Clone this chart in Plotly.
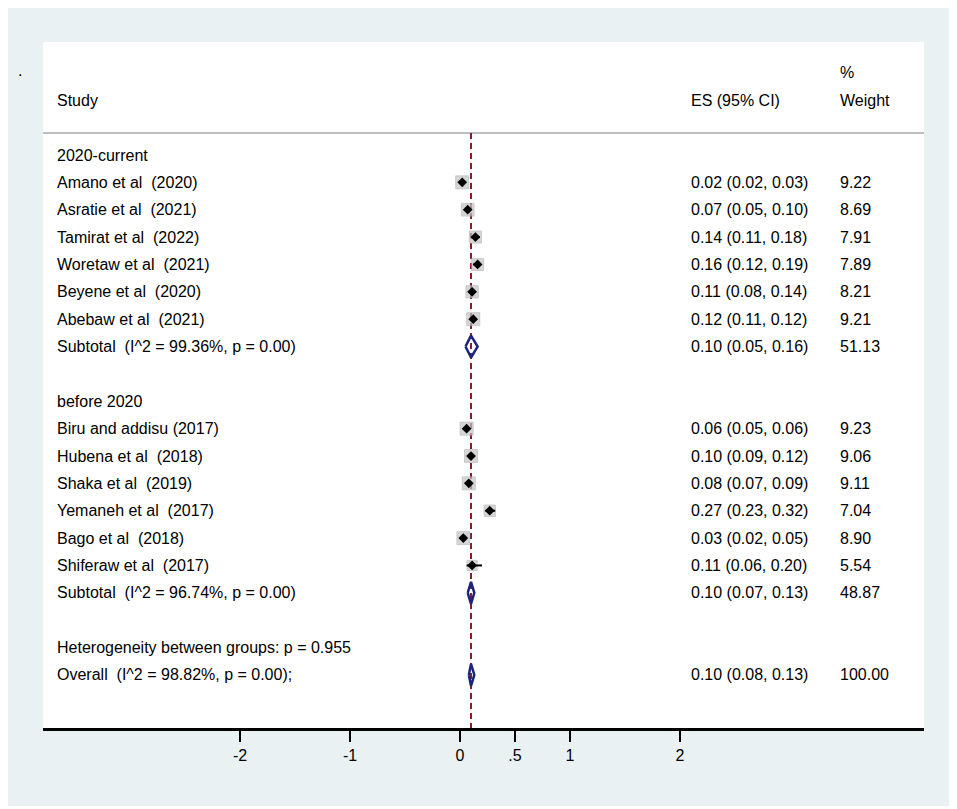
import math
import plotly.graph_objects as go

# study level data
group_names = ["2020-current", "before 2020"]
study = ["Amano et al  (2020)", "Asratie et al  (2021)", "Tamirat et al  (2022)",
         "Woretaw et al  (2021)", "Beyene et al  (2020)", "Abebaw et al  (2021)",
         "Biru and addisu (2017)", "Hubena et al  (2018)", "Shaka et al  (2019)",
         "Yemaneh et al  (2017)", "Bago et al  (2018)", "Shiferaw et al  (2017)"]
group = [0, 0, 0, 0, 0, 0, 1, 1, 1, 1, 1, 1]
es = [0.02, 0.07, 0.14, 0.16, 0.11, 0.12, 0.06, 0.10, 0.08, 0.27, 0.03, 0.11]
lo = [0.02, 0.05, 0.11, 0.12, 0.08, 0.11, 0.05, 0.09, 0.07, 0.23, 0.02, 0.06]
hi = [0.03, 0.10, 0.18, 0.19, 0.14, 0.12, 0.06, 0.12, 0.09, 0.32, 0.05, 0.20]
weight = [9.22, 8.69, 7.91, 7.89, 8.21, 9.21, 9.23, 9.06, 9.11, 7.04, 8.90, 5.54]

# subgroup pooled estimates
sub_es = [0.10, 0.10]
sub_lo = [0.05, 0.07]
sub_hi = [0.16, 0.13]
sub_w = [51.13, 48.87]
sub_i2 = [99.36, 96.74]
sub_p = [0.00, 0.00]

# overall
overall_es, overall_lo, overall_hi = 0.10, 0.08, 0.13
overall_i2, overall_p = 98.82, 0.00
het_p = 0.955

tick_vals = [-2, -1, 0, 0.5, 1, 2]
tick_text = ["-2", "-1", "0", ".5", "1", "2"]

NB = "\u00a0"


def ci_text(e, l, h):
    return f"{e:.2f} ({l:.2f}, {h:.2f})"


# lay out rows (top to bottom)
row_label = []   # (row, label)
row_right = []   # (row, es text, weight text)
study_row = [0] * len(study)
sub_row = []
r = 0
for g, name in enumerate(group_names):
    row_label.append((r, name))
    r += 1
    for i in range(len(study)):
        if group[i] == g:
            study_row[i] = r
            row_label.append((r, study[i]))
            row_right.append((r, ci_text(es[i], lo[i], hi[i]), f"{weight[i]:.2f}"))
            r += 1
    sub_row.append(r)
    row_label.append((r, f"Subtotal  (I^2 = {sub_i2[g]:.2f}%, p = {sub_p[g]:.2f})"))
    row_right.append((r, ci_text(sub_es[g], sub_lo[g], sub_hi[g]), f"{sub_w[g]:.2f}"))
    r += 2
row_label.append((r, f"Heterogeneity between groups: p = {het_p:.3f}"))
r += 1
overall_row = r
row_label.append((r, f"Overall  (I^2 = {overall_i2:.2f}%, p = {overall_p:.2f});"))
row_right.append((r, ci_text(overall_es, overall_lo, overall_hi), f"{100:.2f}"))

Y_TOP, Y_BOT = -4.13, 20.94
HEAD_LINE = -0.8
X_STUDY, X_ES, X_W = -3.682, 2.082, 3.436

fig = go.Figure()

# weight boxes
fig.add_trace(go.Scatter(
    x=es, y=study_row, mode="markers", hoverinfo="skip",
    marker=dict(symbol="square", size=[4.3 * math.sqrt(w) for w in weight],
                color="#c4c4c4", line=dict(width=0.8, color="#a9a9a9")),
))

# point estimates with CI
fig.add_trace(go.Scatter(
    x=es, y=study_row, mode="markers", hoverinfo="skip",
    marker=dict(symbol="diamond", size=7.5, color="black", line=dict(width=0)),
    error_x=dict(type="data", symmetric=False,
                 array=[h - e for e, h in zip(es, hi)],
                 arrayminus=[e - l for e, l in zip(es, lo)],
                 width=0, thickness=2, color="black"),
))

# pooled diamonds
dx, dy = [], []
for e, l, h, rr in zip(sub_es + [overall_es], sub_lo + [overall_lo],
                       sub_hi + [overall_hi], sub_row + [overall_row]):
    dx += [l, e, h, e, l, None]
    dy += [rr, rr - 0.4, rr, rr + 0.4, rr, None]
fig.add_trace(go.Scatter(x=dx, y=dy, mode="lines", hoverinfo="skip",
                         line=dict(color="#1a237e", width=2.5)))

ann = []
for rr, txt in row_label:
    ann.append(dict(x=X_STUDY, y=rr, text=txt.replace("  ", " " + NB),
                    xanchor="left", yanchor="middle", showarrow=False))
for rr, t1, t2 in row_right:
    ann.append(dict(x=X_ES, y=rr, text=t1, xanchor="left", yanchor="middle", showarrow=False))
    ann.append(dict(x=X_W, y=rr, text=t2, xanchor="left", yanchor="middle", showarrow=False))
ann.append(dict(x=X_STUDY, y=-2, text="Study", xanchor="left", yanchor="middle", showarrow=False))
ann.append(dict(x=X_ES, y=-2, text="ES (95% CI)", xanchor="left", yanchor="middle", showarrow=False))
ann.append(dict(x=X_W, y=-2, text="Weight", xanchor="left", yanchor="middle", showarrow=False))
ann.append(dict(x=X_W, y=-3.03, text="%", xanchor="left", yanchor="middle", showarrow=False))
ann.append(dict(xref="paper", yref="paper", x=-0.026, y=0.959, text=".",
                xanchor="center", yanchor="middle", showarrow=False))

shapes = [
    dict(type="rect", xref="paper", yref="paper", x0=-36 / 881, x1=1 + 28 / 881,
         y0=-78 / 686, y1=1 + 36 / 686, fillcolor="#eaf1f3", line=dict(width=0), layer="below"),
    dict(type="rect", xref="paper", yref="paper", x0=0, x1=1, y0=0, y1=1,
         fillcolor="white", line=dict(width=0), layer="below"),
    dict(type="line", xref="paper", yref="y", x0=0, x1=1, y0=HEAD_LINE, y1=HEAD_LINE,
         line=dict(color="#a8a8a8", width=1.5), layer="below"),
    dict(type="line", xref="x", yref="y", x0=overall_es, x1=overall_es, y0=HEAD_LINE, y1=Y_BOT,
         line=dict(color="#8b1a2b", width=2, dash="6px,4px"), layer="below"),
]

# page body has an 8px margin, so the figure is drawn 8px smaller than the window
fig.update_layout(
    width=949, height=801,
    margin=dict(l=35, r=33, t=34, b=81),
    paper_bgcolor="white", plot_bgcolor="white",
    showlegend=False,
    font=dict(family="Liberation Sans, Arial, sans-serif", size=16, color="black"),
    annotations=ann, shapes=shapes,
)
fig.update_xaxes(range=[-3.791, 4.218], showgrid=False, zeroline=False,
                 showline=True, linecolor="black", linewidth=2.5,
                 ticks="outside", ticklen=11, tickwidth=1.5, tickcolor="black",
                 tickvals=tick_vals, ticktext=tick_text, tickfont=dict(size=16))
fig.update_yaxes(range=[Y_BOT, Y_TOP], visible=False, showgrid=False, zeroline=False)

fig.write_html("out.html")
